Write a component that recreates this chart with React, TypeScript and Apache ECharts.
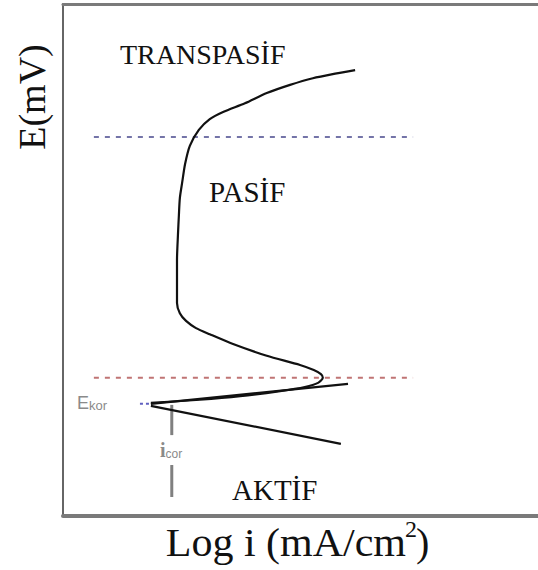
import React, { useEffect, useRef } from "react";
import * as echarts from "echarts";

// Anodic polarization curve (log i and E in arbitrary units)
const curveLogI = [
  61.5, 57.3, 52.6, 47.8, 42.9, 38.3, 33.7, 30.9, 28.6, 26.7, 25.7, 25.1, 24.6, 24.4, 24.2, 24.0, 24.0, 24.0,
  24.6, 25.9, 28.0, 30.9, 35.8, 42.9, 49.9, 52.8, 54.3, 54.7, 53.7, 50.9, 45.7, 37.3, 28.8, 18.5,
];
const curveE = [
  87.1, 86.4, 85.5, 84.2, 82.6, 80.6, 78.9, 77.5, 75.4, 72.3, 68.75, 65.2, 62.1, 58.8, 54.9, 50.0, 44.1, 41.6,
  39.6, 38.1, 36.7, 35.5, 33.6, 31.3, 29.5, 28.5, 27.7, 27.0, 26.0, 25.2, 24.4, 23.4, 22.7, 22.1,
];

// Tafel extrapolation lines meeting at the corrosion point
const anodicTafelLogI = [60.0, 18.5];
const anodicTafelE = [25.8, 21.9];
const cathodicLogI = [18.5, 58.5];
const cathodicE = [21.5, 14.1];

// Region boundaries (passivation / transpassivation potentials)
const boundaryLogI = [6.5, 73.7];
const transpassiveE = 74.0;
const passiveStartE = 27.0;

// Corrosion potential / current markers
const ecorTickLogI = [16.2, 18.5];
const ecorE = 21.9;
const icorLogI = 22.9;
const icorUpperE = [21.7, 15.8];
const icorLowerE = [9.96, 3.71];

const zip = (xs: number[], ys: number[]) => xs.map((x, i) => [x, ys[i]]);

export default function App() {
  const ref = useRef<HTMLDivElement>(null);

  useEffect(() => {
    if (!ref.current) return;
    const chart = echarts.init(ref.current, undefined, { renderer: "svg" });
    const serif = "Liberation Serif";
    const sans = "Liberation Sans";

    const hiddenValueAxis = {
      type: "value",
      min: 0,
      max: 100,
      axisTick: { show: false },
      axisLabel: { show: false },
      splitLine: { show: false },
    };

    chart.setOption({
      animation: false,
      backgroundColor: "#ffffff",
      grid: { left: 63, top: 4, width: 475, height: 512, containLabel: false },
      xAxis: [
        { ...hiddenValueAxis, position: "bottom", axisLine: { show: true, lineStyle: { color: "#7a7a7a", width: 4 } } },
        { ...hiddenValueAxis, position: "top", axisLine: { show: true, lineStyle: { color: "#7a7a7a", width: 3 } } },
      ],
      yAxis: { ...hiddenValueAxis, axisLine: { show: true, lineStyle: { color: "#666666", width: 2 } } },
      series: [
        {
          type: "line",
          data: boundaryLogI.map((x) => [x, transpassiveE]),
          symbol: "none",
          lineStyle: { color: "#7474a8", width: 2, type: [5, 6] },
        },
        {
          type: "line",
          data: boundaryLogI.map((x) => [x, passiveStartE]),
          symbol: "none",
          lineStyle: { color: "#c07474", width: 2, type: [5, 6] },
        },
        {
          type: "line",
          data: ecorTickLogI.map((x) => [x, ecorE]),
          symbol: "none",
          lineStyle: { color: "#6060c0", width: 2, type: [3, 3] },
        },
        {
          type: "line",
          data: icorUpperE.map((y) => [icorLogI, y]),
          symbol: "none",
          lineStyle: { color: "#808080", width: 3 },
        },
        {
          type: "line",
          data: icorLowerE.map((y) => [icorLogI, y]),
          symbol: "none",
          lineStyle: { color: "#808080", width: 3 },
        },
        {
          type: "line",
          data: zip(anodicTafelLogI, anodicTafelE),
          symbol: "none",
          lineStyle: { color: "#111111", width: 2.2 },
        },
        {
          type: "line",
          data: zip(cathodicLogI, cathodicE),
          symbol: "none",
          lineStyle: { color: "#111111", width: 2.2 },
        },
        {
          type: "line",
          data: zip(curveLogI, curveE),
          symbol: "none",
          smooth: 0.25,
          lineStyle: { color: "#111111", width: 2.2 },
        },
      ],
      graphic: [
        {
          type: "text",
          x: 120,
          y: 54,
          style: { text: "TRANSPASİF", x: 0, y: 0, fontFamily: serif, fontSize: 28, fill: "#111", textAlign: "left", textVerticalAlign: "middle" },
        },
        {
          type: "text",
          x: 209,
          y: 192,
          style: { text: "PASİF", x: 0, y: 0, fontFamily: serif, fontSize: 29, fill: "#111", textAlign: "left", textVerticalAlign: "middle" },
        },
        {
          type: "text",
          x: 232,
          y: 490,
          style: { text: "AKTİF", x: 0, y: 0, fontFamily: serif, fontSize: 29, fill: "#111", textAlign: "left", textVerticalAlign: "middle" },
        },
        {
          type: "text",
          x: 32,
          y: 97,
          rotation: Math.PI / 2,
          style: { text: "E(mV)", x: 0, y: 0, fontFamily: serif, fontSize: 38, fill: "#111", textAlign: "center", textVerticalAlign: "middle" },
        },
        {
          type: "text",
          x: 406,
          y: 542,
          scaleX: 1.05,
          style: { text: "Log i (mA/cm", x: 0, y: 0, fontFamily: serif, fontSize: 40, fill: "#111", textAlign: "right", textVerticalAlign: "middle" },
        },
        {
          type: "text",
          x: 405,
          y: 529,
          style: { text: "2", x: 0, y: 0, fontFamily: serif, fontSize: 24, fill: "#111", textAlign: "left", textVerticalAlign: "middle" },
        },
        {
          type: "text",
          x: 416,
          y: 542,
          style: { text: ")", x: 0, y: 0, fontFamily: serif, fontSize: 40, fill: "#111", textAlign: "left", textVerticalAlign: "middle" },
        },
        {
          type: "text",
          x: 77,
          y: 403,
          style: {
            text: "{e|E}{k|kor}",
            x: 0,
            y: 0,
            textAlign: "left",
            textVerticalAlign: "middle",
            rich: {
              e: { fontFamily: sans, fontSize: 18, fill: "#8a8a8a" },
              k: { fontFamily: sans, fontSize: 13, fill: "#8a8a8a", verticalAlign: "bottom" },
            },
          },
        },
        {
          type: "text",
          x: 160,
          y: 450,
          style: {
            text: "{i|i}{c|cor}",
            x: 0,
            y: 0,
            textAlign: "left",
            textVerticalAlign: "middle",
            rich: {
              i: { fontFamily: serif, fontWeight: "bold", fontSize: 20, fill: "#8a8a8a" },
              c: { fontFamily: sans, fontSize: 12, fill: "#8a8a8a", verticalAlign: "bottom" },
            },
          },
        },
      ],
    });

    return () => chart.dispose();
  }, []);

  return (
    <div
      ref={ref}
      style={{ position: "fixed", left: 0, top: 0, width: 538, height: 570 }}
    />
  );
}
